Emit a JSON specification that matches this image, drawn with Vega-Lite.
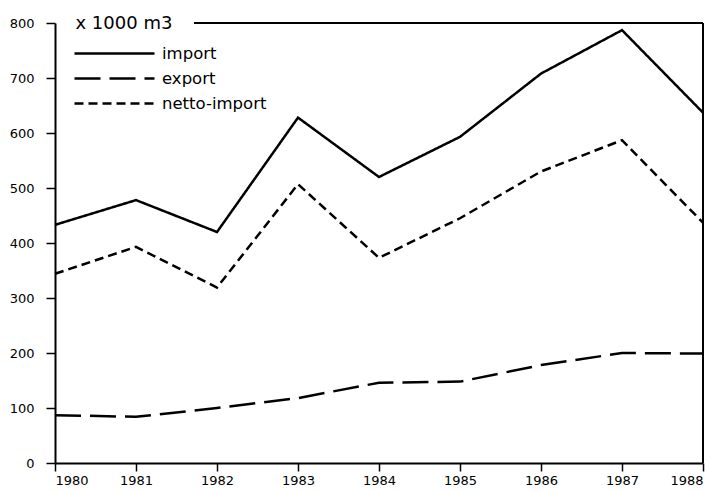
{
  "$schema": "https://vega.github.io/schema/vega-lite/v6.json",
  "width": 648,
  "height": 440,
  "autosize": {"type": "none"},
  "padding": {"left": 55, "top": 23, "right": 18, "bottom": 29},
  "background": "white",
  "config": {
    "view": {"stroke": null},
    "font": "DejaVu Sans",
    "axis": {
      "domainColor": "black", "domainWidth": 2, "tickColor": "black", "tickWidth": 1.5,
      "labelColor": "black", "labelFont": "DejaVu Sans", "labelFontSize": 13, "grid": false
    }
  },
  "data": {
    "values": [
      {"year": 1980, "series": "import", "value": 433},
      {"year": 1981, "series": "import", "value": 478},
      {"year": 1982, "series": "import", "value": 420},
      {"year": 1983, "series": "import", "value": 628},
      {"year": 1984, "series": "import", "value": 520},
      {"year": 1985, "series": "import", "value": 593},
      {"year": 1986, "series": "import", "value": 708},
      {"year": 1987, "series": "import", "value": 787},
      {"year": 1988, "series": "import", "value": 637},
      {"year": 1980, "series": "export", "value": 87},
      {"year": 1981, "series": "export", "value": 84},
      {"year": 1982, "series": "export", "value": 100},
      {"year": 1983, "series": "export", "value": 118},
      {"year": 1984, "series": "export", "value": 146},
      {"year": 1985, "series": "export", "value": 148},
      {"year": 1986, "series": "export", "value": 178},
      {"year": 1987, "series": "export", "value": 200},
      {"year": 1988, "series": "export", "value": 199},
      {"year": 1980, "series": "netto-import", "value": 344},
      {"year": 1981, "series": "netto-import", "value": 393},
      {"year": 1982, "series": "netto-import", "value": 319},
      {"year": 1983, "series": "netto-import", "value": 507},
      {"year": 1984, "series": "netto-import", "value": 373},
      {"year": 1985, "series": "netto-import", "value": 445},
      {"year": 1986, "series": "netto-import", "value": 530},
      {"year": 1987, "series": "netto-import", "value": 587},
      {"year": 1988, "series": "netto-import", "value": 437}
    ]
  },
  "layer": [
    {
      "mark": {"type": "line", "color": "black", "strokeWidth": 2.5},
      "encoding": {
        "x": {"field": "year", "type": "quantitative",
              "scale": {"domain": [1980, 1988], "nice": false, "zero": false},
              "axis": {"title": null, "values": [1980,1981,1982,1983,1984,1985,1986,1987,1988], "format": "d", "tickSize": 8, "labelPadding": 3}},
        "y": {"field": "value", "type": "quantitative",
              "scale": {"domain": [0, 800], "nice": false},
              "axis": {"title": "x 1000 m3", "titleAngle": 0, "titleX": 20, "titleY": 0, "titleAlign": "left", "titleBaseline": "middle",
                       "titleFont": "DejaVu Sans", "titleFontSize": 18, "titleFontWeight": "normal", "titleColor": "black",
                       "values": [0,100,200,300,400,500,600,700,800], "tickSize": 9, "labelPadding": 12}},
        "strokeDash": {"field": "series", "type": "nominal",
          "scale": {"domain": ["import", "export", "netto-import"], "range": [[1, 0], [26, 9], [9, 5]]},
          "legend": {"title": null, "orient": "none", "legendX": 18, "legendY": 19, "symbolType": "M-1,0H7",
                     "symbolSize": 400, "symbolStrokeColor": "black", "symbolStrokeWidth": 2.5,
                     "labelFont": "DejaVu Sans", "labelFontSize": 16.5, "labelColor": "black", "labelOffset": 66, "rowPadding": 5}}
      }
    },
    {
      "mark": {"type": "rule", "color": "black", "strokeWidth": 2},
      "encoding": {
        "x": {"datum": 1981.72},
        "x2": {"datum": 1988},
        "y": {"datum": 800}
      }
    },
    {
      "mark": {"type": "rule", "color": "black", "strokeWidth": 2},
      "encoding": {
        "x": {"datum": 1988},
        "y": {"datum": 0},
        "y2": {"datum": 800}
      }
    }
  ]
}
